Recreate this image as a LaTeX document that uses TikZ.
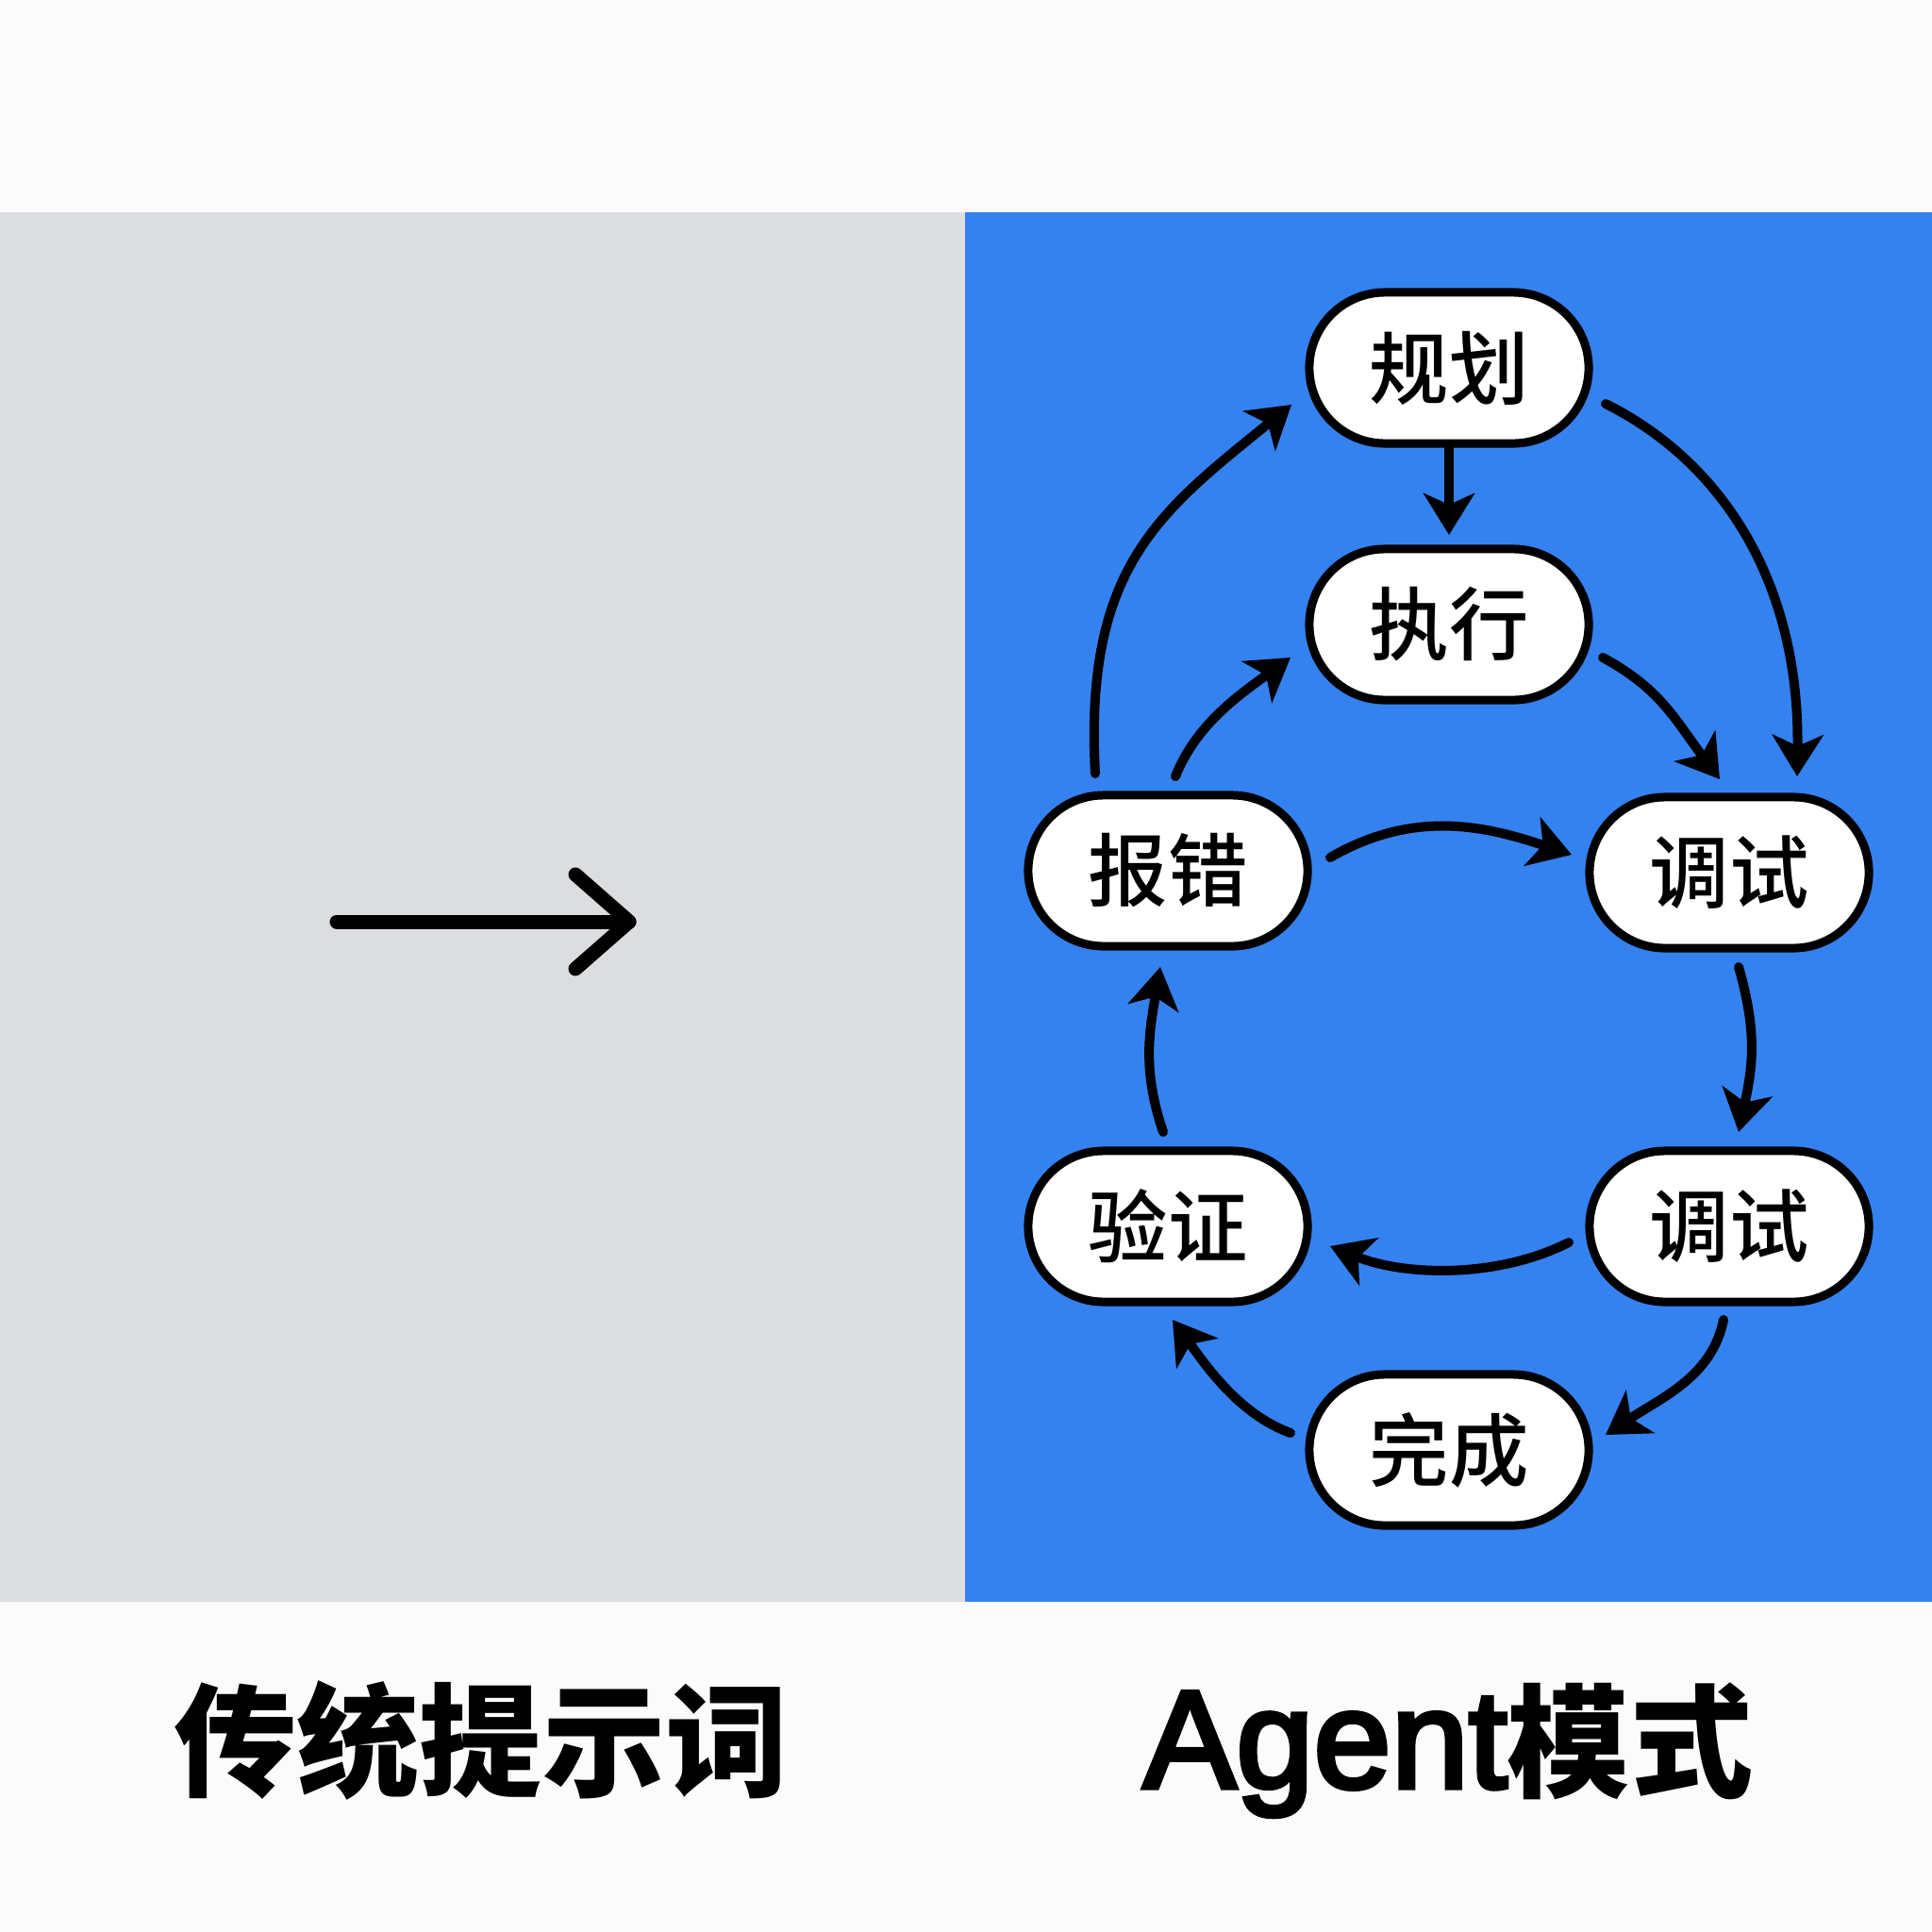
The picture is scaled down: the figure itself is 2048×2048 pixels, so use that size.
\documentclass[tikz,border=0pt]{standalone}
\usepackage{fontspec}
\setmainfont{Liberation Sans}
\newfontfamily\cjk{Noto Sans CJK SC}
\newfontfamily\cjkmed{Noto Sans CJK SC Medium}
\newfontfamily\agentfont[FakeBold=3.5]{Liberation Sans}
\usetikzlibrary{arrows.meta}
\definecolor{bluebg}{RGB}{52,130,240}
\definecolor{graybg}{RGB}{220,221,225}
\definecolor{whitebg}{RGB}{251,251,251}
\begin{document}
\begin{tikzpicture}[x=0.01cm,y=-0.01cm,
  box/.style={draw=black, fill=white, line width=0.09cm, rounded corners=0.8cm,
    minimum width=2.96cm, minimum height=1.6cm, inner sep=0pt,
    font=\cjkmed\fontsize{24}{24}\selectfont},
  arr/.style={draw=black, line width=0.1cm, line cap=round,
    -{Stealth[length=0.44cm,width=0.54cm,inset=0.12cm]}},
  bigarrow/.style={draw=black, line width=0.15cm, line cap=round, line join=round},
  cjklabel/.style={anchor=base, inner sep=0pt, font=\cjk\bfseries\fontsize{37}{37}\selectfont}
]
\fill[whitebg] (0,0) rectangle (2048,2048);
\fill[graybg] (0,225) rectangle (1023,1698);
\fill[bluebg] (1023,225) rectangle (2048,1698);
\useasboundingbox (0,0) rectangle (2048,2048);

% nodes
\node[box] (gh)  at (1536,390)  {规划};
\node[box] (zx)  at (1536,662)  {执行};
\node[box] (bc)  at (1238,923)  {报错};
\node[box] (ts1) at (1833,925)  {调试};
\node[box] (yz)  at (1238,1300) {验证};
\node[box] (ts2) at (1833,1300) {调试};
\node[box] (wc)  at (1536,1537) {完成};

% connectors
\draw[arr] ([shift={(0,84)}]gh.center) -- ([shift={(0,-95)}]zx.center);
\draw[arr] ([shift={(166,38)}]gh.center) .. controls +(128,64) and +(3,-200) .. ([shift={(72,-102)}]ts1.center);
\draw[arr] ([shift={(163,35)}]zx.center) .. controls +(61,33) and +(-48,-64) .. ([shift={(-10,-99)}]ts1.center);
\draw[arr] ([shift={(-77,-103)}]bc.center) .. controls +(-12,-220) and +(-139,113) .. ([shift={(-167,39)}]gh.center);
\draw[arr] ([shift={(8,-100)}]bc.center) .. controls +(22,-55) and +(-55,40) .. ([shift={(-168,35)}]zx.center);
\draw[arr] ([shift={(172,-14)}]bc.center) .. controls +(90,-52) and +(-90,-30) .. ([shift={(-167,-19)}]ts1.center);
\draw[arr] ([shift={(10,100)}]ts1.center) .. controls +(20,70) and +(15,-70) .. ([shift={(10,-100)}]ts2.center);
\draw[arr] ([shift={(-170,17)}]ts2.center) .. controls +(-75,38) and +(80,32) .. ([shift={(172,21)}]yz.center);
\draw[arr] ([shift={(-6,99)}]ts2.center) .. controls +(-12,60) and +(60,-40) .. ([shift={(166,-16)}]wc.center);
\draw[arr] ([shift={(-168,-18)}]wc.center) .. controls +(-55,-20) and +(35,48) .. ([shift={(5,99)}]yz.center);
\draw[arr] ([shift={(-5,-100)}]yz.center) .. controls +(-22,-65) and +(-12,70) .. ([shift={(-8,102)}]bc.center);

% left panel arrow
\draw[bigarrow] (357,977) -- (667,977);
\draw[bigarrow] (610,927) -- (667,977) -- (610,1027);

% bottom labels
\node[cjklabel] (t1) at (510,1894) {传统提示词};
\node[anchor=base, inner sep=0pt] (t2) at (1535,1895)
  {{\agentfont\fontsize{42}{42}\selectfont Agent}{\cjk\bfseries\fontsize{37}{37}\selectfont 模式}};
\end{tikzpicture}
\end{document}
